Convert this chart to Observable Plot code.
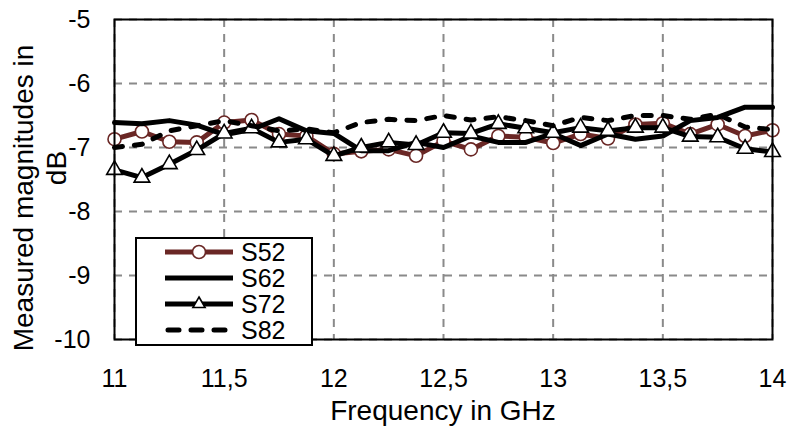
<!DOCTYPE html>
<html>
<head>
<meta charset="utf-8">
<script src="https://cdn.jsdelivr.net/npm/d3@7"></script>
<script src="https://cdn.jsdelivr.net/npm/@observablehq/plot@0.6"></script>
<style>
  html, body { margin: 0; padding: 0; background: #fff; }
  #wrap { position: relative; width: 790px; height: 430px; font-family: "Liberation Sans", Arial, sans-serif; color: #000; }
  #legend { position: absolute; left: 135px; top: 237px; width: 178px; height: 109px; box-sizing: border-box;
            border: 2px solid #000; background: #fff; }
  .row { display: flex; align-items: center; height: 26px; }
  .row svg { margin-left: 26px; margin-right: 6px; }
  .row span { font-size: 25px; color: #000; line-height: 26px; }
  .title { position: absolute; white-space: nowrap; line-height: 1; font-size: 28px; }
</style>
</head>
<body>
<div id="wrap"></div>
<script>
const freq = [11, 11.125, 11.25, 11.375, 11.5, 11.625, 11.75, 11.875, 12, 12.125, 12.25, 12.375, 12.5,
              12.625, 12.75, 12.875, 13, 13.125, 13.25, 13.375, 13.5, 13.625, 13.75, 13.875, 14];
const S52 = [-6.87, -6.75, -6.91, -6.92, -6.61, -6.57, -6.79, -6.82, -7.10, -7.06, -7.03, -7.13, -6.90,
             -7.03, -6.82, -6.84, -6.93, -6.79, -6.86, -6.64, -6.62, -6.79, -6.64, -6.82, -6.73];
const S62 = [-6.61, -6.63, -6.58, -6.65, -6.80, -6.72, -6.55, -6.74, -6.78, -7.05, -7.05, -6.92, -7.00,
             -6.82, -6.92, -6.92, -6.78, -6.97, -6.79, -6.87, -6.82, -6.58, -6.53, -6.37, -6.37];
const S72 = [-7.35, -7.47, -7.26, -7.04, -6.78, -6.70, -6.92, -6.87, -7.13, -7.00, -6.92, -6.96, -6.77,
             -6.78, -6.63, -6.70, -6.77, -6.69, -6.74, -6.69, -6.69, -6.83, -6.84, -7.02, -7.07];
const S82 = [-7.00, -6.95, -6.74, -6.66, -6.58, -6.66, -6.74, -6.71, -6.77, -6.61, -6.56, -6.58, -6.50,
             -6.57, -6.52, -6.58, -6.66, -6.53, -6.58, -6.50, -6.50, -6.56, -6.48, -6.68, -6.72];
const xTicks = [11, 11.5, 12, 12.5, 13, 13.5, 14];
const yTicks = [-10, -9, -8, -7, -6, -5];
const seriesNames = ["S52", "S62", "S72", "S82"];
const xTitle = "Frequency in GHz";
const yTitle1 = "Measured magnitudes in";
const yTitle2 = "dB";

const brown = "#6a2725";
const mk = (vals) => freq.map((f, i) => ({f, v: vals[i]}));
const d52 = mk(S52), d62 = mk(S62), d72 = mk(S72), d82 = mk(S82);
const font = "'Liberation Sans', Arial, sans-serif";
const triR = 5.8;

const chart = Plot.plot({
  width: 790,
  height: 430,
  marginLeft: 114,
  marginRight: 18,
  marginTop: 19,
  marginBottom: 91,
  x: {domain: [11, 14]},
  y: {domain: [-10, -5]},
  style: {fontFamily: font, background: "#fff", color: "#000", overflow: "visible"},
  marks: [
    Plot.gridX(xTicks, {stroke: "#8a8a8a", strokeOpacity: 1, strokeWidth: 2, strokeDasharray: "8,7"}),
    Plot.gridY(yTicks, {stroke: "#8a8a8a", strokeOpacity: 1, strokeWidth: 2, strokeDasharray: "8,7"}),
    Plot.axisX(xTicks, {tickSize: 0, tickPadding: 30, fontSize: 25, label: null,
                        tickFormat: d => String(d).replace(".", ",")}),
    Plot.axisY(yTicks, {tickSize: 0, tickPadding: 24, fontSize: 25, label: null,
                        tickFormat: d => String(d)}),
    Plot.line(d52, {x: "f", y: "v", stroke: brown, strokeWidth: 5}),
    Plot.dot(d52, {x: "f", y: "v", r: 6.5, fill: "#fff", stroke: brown, strokeWidth: 1.6}),
    Plot.line(d62, {x: "f", y: "v", stroke: "#000", strokeWidth: 5}),
    Plot.line(d72, {x: "f", y: "v", stroke: "#000", strokeWidth: 5}),
    Plot.dot(d72, {x: "f", y: "v", symbol: "triangle", r: triR, fill: "#fff", stroke: "#000", strokeWidth: 1.6}),
    Plot.line(d82, {x: "f", y: "v", stroke: "#000", strokeWidth: 5, strokeDasharray: "8,12", strokeLinecap: "round"}),
    Plot.frame({stroke: "#000", strokeWidth: 2})
  ]
});

const wrap = document.getElementById("wrap");
wrap.appendChild(chart);

// Axis titles (HTML, positioned around the SVG)
function addTitle(text, cx, cy, rot) {
  const d = document.createElement("div");
  d.className = "title";
  d.textContent = text;
  d.style.left = cx + "px";
  d.style.top = cy + "px";
  d.style.transform = `translate(-50%, -50%)${rot ? " rotate(" + rot + "deg)" : ""}`;
  wrap.appendChild(d);
}
addTitle(xTitle, 443, 411, 0);
addTitle(yTitle1, 24, 198, -90);
addTitle(yTitle2, 57, 168, -90);

// Legend
const legend = document.createElement("div");
legend.id = "legend";
const swatch = (name) => {
  const ns = "http://www.w3.org/2000/svg";
  const svg = document.createElementNS(ns, "svg");
  svg.setAttribute("width", 72); svg.setAttribute("height", 26);
  const line = document.createElementNS(ns, "line");
  line.setAttribute("x1", 2); line.setAttribute("x2", 70);
  line.setAttribute("y1", 13); line.setAttribute("y2", 13);
  line.setAttribute("stroke-width", 5);
  line.setAttribute("stroke", name === "S52" ? brown : "#000");
  if (name === "S82") { line.setAttribute("stroke-dasharray", "11,12"); line.setAttribute("stroke-linecap", "round"); line.setAttribute("x1", 5); }
  svg.appendChild(line);
  if (name === "S52") {
    const c = document.createElementNS(ns, "circle");
    c.setAttribute("cx", 36); c.setAttribute("cy", 13); c.setAttribute("r", 6.5);
    c.setAttribute("fill", "#fff"); c.setAttribute("stroke", brown); c.setAttribute("stroke-width", 1.6);
    svg.appendChild(c);
  }
  if (name === "S72") {
    const p = document.createElementNS(ns, "path");
    p.setAttribute("d", d3.symbol(d3.symbolTriangle2, triR * triR * Math.PI)());
    p.setAttribute("transform", "translate(36,13)");
    p.setAttribute("fill", "#fff"); p.setAttribute("stroke", "#000"); p.setAttribute("stroke-width", 1.6);
    svg.appendChild(p);
  }
  return svg;
};
for (const name of seriesNames) {
  const row = document.createElement("div");
  row.className = "row";
  row.appendChild(swatch(name));
  const s = document.createElement("span");
  s.textContent = name;
  row.appendChild(s);
  legend.appendChild(row);
}
wrap.appendChild(legend);
</script>
</body>
</html>
